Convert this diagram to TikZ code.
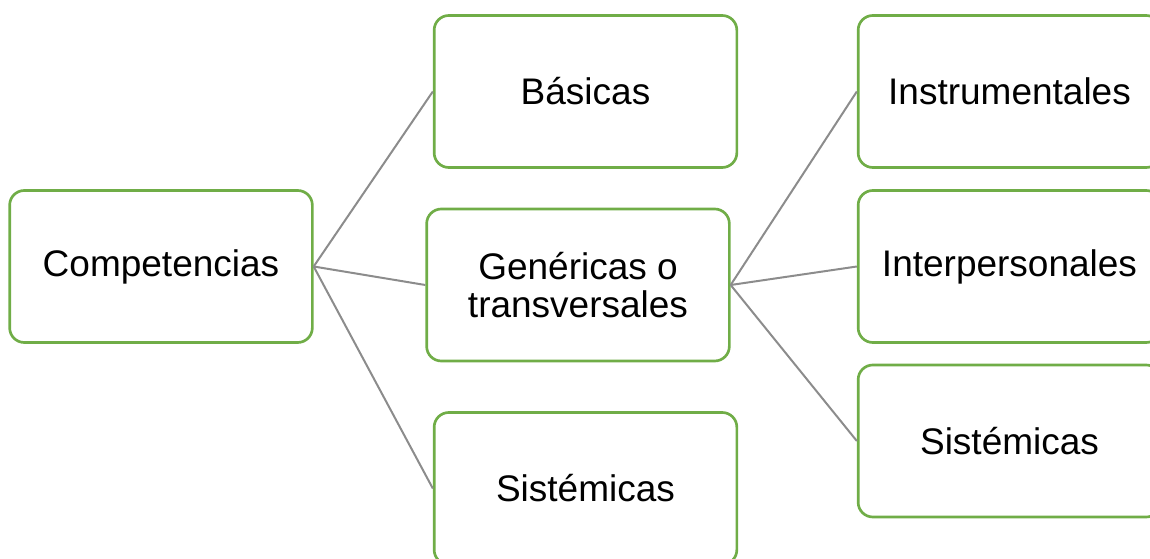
\documentclass[tikz,border=0pt]{standalone}
\usepackage{fontspec}
\setmainfont{Liberation Sans}
\definecolor{boxgreen}{HTML}{70AD47}
\definecolor{linkgray}{HTML}{8C8C8C}
\begin{document}
\begin{tikzpicture}[x=0.75pt,y=-0.75pt,
  box/.style={draw=boxgreen,line width=2pt,rounded corners=11pt,fill=white,
    minimum width=227pt,minimum height=114pt,inner sep=0pt,align=center,
    font=\fontsize{27.75}{28.5}\selectfont},
  link/.style={draw=linkgray,line width=1.5pt}]
\useasboundingbox (0,0) rectangle (1150,559);
\clip (0,0) rectangle (1150,559);
\node[box] (comp) at (161,266.5) {Competencias};
\node[box] (bas) at (585.5,91.5) {Básicas};
\node[box] (gen) at (578,285) {Genéricas o\\transversales};
\node[box] (sisL) at (585.5,488.5) {Sistémicas};
\node[box] (inst) at (1009.5,91.5) {Instrumentales};
\node[box] (inter) at (1009.5,266.5) {Interpersonales};
\node[box] (sisR) at (1009.5,441) {Sistémicas};
\draw[link] (comp.east) -- (bas.west);
\draw[link] (comp.east) -- (gen.west);
\draw[link] (comp.east) -- (sisL.west);
\draw[link] (gen.east) -- (inst.west);
\draw[link] (gen.east) -- (inter.west);
\draw[link] (gen.east) -- (sisR.west);
\end{tikzpicture}
\end{document}
